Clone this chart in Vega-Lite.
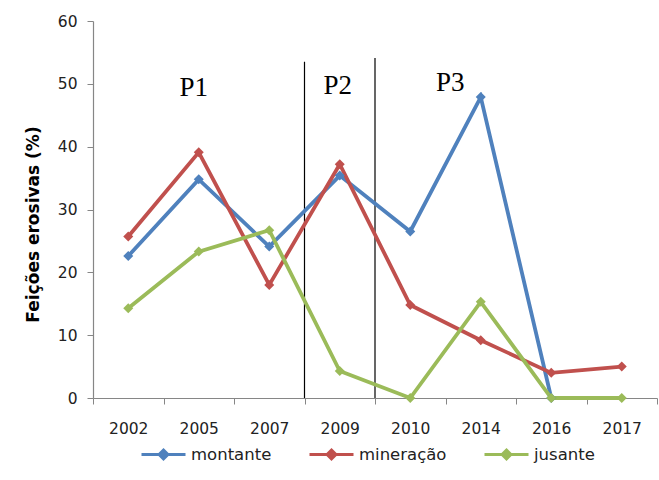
{
  "$schema": "https://vega.github.io/schema/vega-lite/v6.json",
  "width": 564,
  "height": 377,
  "autosize": "none",
  "padding": {"left": 93, "top": 21, "right": 2, "bottom": 82},
  "background": "white",
  "config": {
    "view": {"stroke": null},
    "axis": {"labelFont": "DejaVu Sans", "labelFontSize": 15.5, "labelColor": "#222222", "domainColor": "#868686", "tickColor": "#868686", "grid": false, "tickSize": 6, "domainWidth": 1.2},
    "legend": {"labelFont": "DejaVu Sans", "labelFontSize": 16.5, "labelColor": "#222222"}
  },
  "datasets": {
    "series": [
      {"ano": "2002", "serie": "montante", "valor": 22.6},
      {"ano": "2005", "serie": "montante", "valor": 34.8},
      {"ano": "2007", "serie": "montante", "valor": 24.1},
      {"ano": "2009", "serie": "montante", "valor": 35.4},
      {"ano": "2010", "serie": "montante", "valor": 26.5},
      {"ano": "2014", "serie": "montante", "valor": 47.9},
      {"ano": "2016", "serie": "montante", "valor": 0},
      {"ano": "2002", "serie": "mineração", "valor": 25.7},
      {"ano": "2005", "serie": "mineração", "valor": 39.1},
      {"ano": "2007", "serie": "mineração", "valor": 18.0},
      {"ano": "2009", "serie": "mineração", "valor": 37.2},
      {"ano": "2010", "serie": "mineração", "valor": 14.8},
      {"ano": "2014", "serie": "mineração", "valor": 9.2},
      {"ano": "2016", "serie": "mineração", "valor": 4.0},
      {"ano": "2017", "serie": "mineração", "valor": 5.0},
      {"ano": "2002", "serie": "jusante", "valor": 14.3},
      {"ano": "2005", "serie": "jusante", "valor": 23.3},
      {"ano": "2007", "serie": "jusante", "valor": 26.7},
      {"ano": "2009", "serie": "jusante", "valor": 4.3},
      {"ano": "2010", "serie": "jusante", "valor": 0},
      {"ano": "2014", "serie": "jusante", "valor": 15.3},
      {"ano": "2016", "serie": "jusante", "valor": 0},
      {"ano": "2017", "serie": "jusante", "valor": 0}
    ],
    "limites": [
      {"ano": "2009", "base": 0, "topo": 53.5},
      {"ano": "2010", "base": 0, "topo": 54.1}
    ],
    "periodos": [
      {"ano": "2005", "rotulo": "P1", "valor": 48.1},
      {"ano": "2009", "rotulo": "P2", "valor": 48.4},
      {"ano": "2010", "rotulo": "P3", "valor": 48.9}
    ]
  },
  "layer": [
    {
      "data": {"name": "limites"},
      "mark": {"type": "rule", "color": "#000000", "strokeWidth": 1.2},
      "encoding": {
        "x": {"field": "ano", "type": "ordinal", "bandPosition": 0, "sort": ["2002","2005","2007","2009","2010","2014","2016","2017"], "scale": {"type": "band", "paddingInner": 0, "paddingOuter": 0, "domain": ["2002","2005","2007","2009","2010","2014","2016","2017"]}},
        "y": {"field": "base", "type": "quantitative"},
        "y2": {"field": "topo"}
      }
    },
    {
      "data": {"name": "series"},
      "mark": {"type": "line", "strokeWidth": 3.8, "point": {"shape": "diamond", "size": 100, "filled": true}},
      "encoding": {
        "x": {"field": "ano", "type": "ordinal", "bandPosition": 0.5, "sort": ["2002","2005","2007","2009","2010","2014","2016","2017"],
              "axis": {"title": null, "labelAngle": 0, "tickBand": "extent", "labelAlign": "center", "labelPadding": 24}},
        "y": {"field": "valor", "type": "quantitative", "scale": {"domain": [0, 60]},
              "axis": {"values": [0,10,20,30,40,50,60], "title": "Feições erosivas (%)", "titleFont": "DejaVu Sans", "titleFontSize": 17, "titleFontWeight": "bold", "titleColor": "#000000", "titlePadding": 15, "labelPadding": 10, "titleY": 203}},
        "color": {"field": "serie", "type": "nominal", "sort": ["montante","mineração","jusante"],
                  "scale": {"domain": ["montante","mineração","jusante"], "range": ["#4F81BD","#C0504D","#9BBB59"]},
                  "legend": {"title": null, "orient": "none", "direction": "horizontal", "legendX": 47, "legendY": 410,
                             "symbolType": "M-1,0L1,0M0,-0.2L0.2,0L0,0.2L-0.2,0Z", "symbolSize": 1936, "symbolStrokeWidth": 3,
                             "columnPadding": 31, "labelOffset": 4,
                             "encode": {"symbols": {"update": {"fill": {"scale": "color", "field": "value"}, "stroke": {"scale": "color", "field": "value"}}}}}}
      }
    },
    {
      "data": {"name": "periodos"},
      "transform": [{"filter": "datum.rotulo === 'P1'"}],
      "mark": {"type": "text", "font": "Liberation Serif", "fontSize": 27, "baseline": "alphabetic", "align": "center", "dx": -5, "color": "#000000"},
      "encoding": {
        "x": {"field": "ano", "type": "ordinal", "bandPosition": 0.5},
        "y": {"field": "valor", "type": "quantitative"},
        "text": {"field": "rotulo"}
      }
    },
    {
      "data": {"name": "periodos"},
      "transform": [{"filter": "datum.rotulo === 'P2'"}],
      "mark": {"type": "text", "font": "Liberation Serif", "fontSize": 27, "baseline": "alphabetic", "align": "center", "dx": -2, "color": "#000000"},
      "encoding": {
        "x": {"field": "ano", "type": "ordinal", "bandPosition": 0.5},
        "y": {"field": "valor", "type": "quantitative"},
        "text": {"field": "rotulo"}
      }
    },
    {
      "data": {"name": "periodos"},
      "transform": [{"filter": "datum.rotulo === 'P3'"}],
      "mark": {"type": "text", "font": "Liberation Serif", "fontSize": 27, "baseline": "alphabetic", "align": "center", "dx": 40, "color": "#000000"},
      "encoding": {
        "x": {"field": "ano", "type": "ordinal", "bandPosition": 0.5},
        "y": {"field": "valor", "type": "quantitative"},
        "text": {"field": "rotulo"}
      }
    }
  ]
}
